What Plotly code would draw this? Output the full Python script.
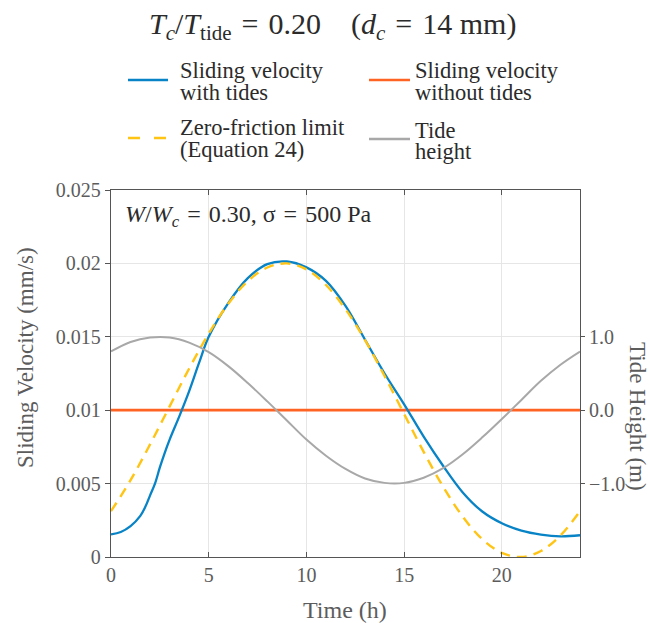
import plotly.graph_objects as go

# ---- data -------------------------------------------------------------
# hourly sample times (h)
t_hours = list(range(0, 25))

# sliding velocity with tides (mm/s)
t_tides = [0, 0.5, 1, 1.5, 1.75, 2, 2.25, 2.5, 2.75, 3, 3.5, 4, 4.5, 5, 6,
           7, 8, 9, 10, 11, 12, 13, 14, 15, 16, 17, 18, 19, 20, 21, 22, 23,
           24]
v_tides = [0.00154, 0.0017, 0.0021, 0.0028, 0.0034, 0.0042, 0.0050, 0.0061,
           0.0071, 0.0080, 0.0096, 0.0113, 0.0132, 0.0150, 0.0173, 0.0190,
           0.01995, 0.02013, 0.01973, 0.01881, 0.0171, 0.0148, 0.0125,
           0.0104, 0.0082, 0.0062, 0.0044, 0.0031, 0.0023, 0.0018, 0.00153,
           0.00141, 0.00148]

# sliding velocity without tides (mm/s)
t_steady = [0, 24]
v_steady = [0.01, 0.01]

# zero-friction limit, Equation 24 (mm/s)
v_zero = [0.00312, 0.00523, 0.00767, 0.01026, 0.01284, 0.01522, 0.01725,
          0.01879, 0.01972, 0.02000, 0.01959, 0.01853, 0.01688, 0.01477,
          0.01233, 0.00974, 0.00716, 0.00478, 0.00275, 0.00121, 0.00028,
          0.0, 0.00041, 0.00147, 0.00312]

# tide height (m)
tide = [0.80, 0.93, 0.99, 0.99, 0.92, 0.79, 0.60, 0.37, 0.12, -0.14, -0.40,
        -0.62, -0.80, -0.93, -0.99, -0.99, -0.92, -0.79, -0.60, -0.37, -0.12,
        0.14, 0.40, 0.62, 0.80]

# axis ticks
x_ticks = [0, 5, 10, 15, 20]
v_ticks = [0, 0.005, 0.01, 0.015, 0.02, 0.025]
v_ticklabels = ["0", "0.005", "0.01", "0.015", "0.02", "0.025"]
h_ticks = [-1, 0, 1]
h_ticklabels = ["\u22121.0", "0.0", "1.0"]

# ---- styling ----------------------------------------------------------
FONT = "Liberation Serif"
BLUE = "#0883C6"
ORANGE = "#FF6324"
YELLOW = "#FFC414"
GRAY = "#A8A8A8"
AXIS = "#555555"
TICKTXT = "#5c5c5c"
TXT = "#2b2b2b"
EQ = "\u2004=\u2004"

W, H = 650, 623
ML, MR, MT, MB = 111, 70, 190, 66
PW, PH = W - ML - MR, H - MT - MB


def px(x):
    return (x - ML) / PW


def py(y):
    return (H - MB - y) / PH


fig = go.Figure()

fig.add_trace(go.Scatter(
    x=t_hours, y=tide, yaxis="y2", mode="lines",
    line=dict(color=GRAY, width=2, shape="spline"),
    name="Tide height", showlegend=False))
fig.add_trace(go.Scatter(
    x=t_steady, y=v_steady, mode="lines",
    line=dict(color=ORANGE, width=2.8),
    name="Sliding velocity without tides", showlegend=False))
fig.add_trace(go.Scatter(
    x=t_tides, y=v_tides, mode="lines",
    line=dict(color=BLUE, width=2.3, shape="spline", smoothing=1.0),
    name="Sliding velocity with tides", showlegend=False))
fig.add_trace(go.Scatter(
    x=t_hours, y=v_zero, mode="lines",
    line=dict(color=YELLOW, width=2.4, dash="10px,7px", shape="spline"),
    name="Zero-friction limit (Equation 24)", showlegend=False))

# ---- legend drawn as line samples + text ------------------------------
legend_items = [
    (128, 168, 80, BLUE, "solid", 178, ["Sliding velocity", "with tides"], [70, 92]),
    (369, 410, 80, ORANGE, "solid", 413, ["Sliding velocity", "without tides"], [70, 92]),
    (128, 166, 138, YELLOW, "12px,14px", 178, ["Zero-friction limit", "(Equation 24)"], [128, 150]),
    (369, 410, 139, GRAY, "solid", 413, ["Tide", "height"], [130, 151]),
]
shapes = []
annotations = []
for x0, x1, yl, col, dash, xt, lines, ys in legend_items:
    shapes.append(dict(type="line", xref="paper", yref="paper",
                       x0=px(x0), x1=px(x1), y0=py(yl), y1=py(yl),
                       line=dict(color=col, width=2.6, dash=dash)))
    for txt, yt in zip(lines, ys):
        annotations.append(dict(xref="paper", yref="paper", x=px(xt), y=py(yt),
                                xanchor="left", yanchor="middle", showarrow=False,
                                text=txt, font=dict(family=FONT, size=22.5, color=TXT)))

# title
annotations.append(dict(
    xref="paper", yref="paper", x=px(332), y=py(26), xanchor="center", yanchor="middle",
    showarrow=False,
    text=("<i>T</i><sub><i>c</i></sub>/<i>T</i><sub>tide</sub>" + EQ + "0.20\u2003("
          "<i>d</i><sub><i>c</i></sub>" + EQ + "14 mm)"),
    font=dict(family=FONT, size=30, color=TXT)))

# parameter note inside the axes
annotations.append(dict(
    xref="paper", yref="paper", x=px(123), y=py(216), xanchor="left", yanchor="middle",
    showarrow=False,
    text="<i>W</i>/<i>W</i><sub><i>c</i></sub>" + EQ + "0.30, \u03c3" + EQ + "500 Pa",
    font=dict(family=FONT, size=24, color=TXT)))

# axis titles
annotations.append(dict(
    xref="paper", yref="paper", x=px(638), y=py(416), xanchor="center", yanchor="middle",
    showarrow=False, textangle=90, text="Tide Height (m)",
    font=dict(family=FONT, size=23, color=TICKTXT)))
annotations.append(dict(
    xref="paper", yref="paper", x=px(25), y=py(358), xanchor="center", yanchor="middle",
    showarrow=False, textangle=-90, text="Sliding Velocity (mm/s)",
    font=dict(family=FONT, size=23, color=TICKTXT)))
annotations.append(dict(
    xref="paper", yref="paper", x=px(345), y=py(610), xanchor="center", yanchor="middle",
    showarrow=False, text="Time (h)",
    font=dict(family=FONT, size=24, color=TICKTXT)))

fig.update_layout(
    width=W, height=H,
    margin=dict(l=ML, r=MR, t=MT, b=MB),
    paper_bgcolor="white", plot_bgcolor="white",
    font=dict(family=FONT, color=TICKTXT),
    showlegend=False,
    shapes=shapes, annotations=annotations,
    xaxis=dict(
        range=[0, 24], tickvals=x_ticks, showgrid=True, gridcolor="#e6e6e6",
        gridwidth=1, zeroline=False, showline=True, linecolor=AXIS, linewidth=1.3,
        mirror="ticks", ticks="inside", ticklen=5, tickcolor=AXIS,
        tickfont=dict(family=FONT, size=20, color=TICKTXT)),
    yaxis=dict(
        range=[0, 0.025], tickvals=v_ticks, ticktext=v_ticklabels,
        showgrid=True, gridcolor="#e6e6e6", gridwidth=1, zeroline=False,
        showline=True, linecolor=AXIS, linewidth=1.3, mirror=True,
        ticks="outside", ticklen=5, tickcolor=AXIS,
        tickfont=dict(family=FONT, size=20, color=TICKTXT)),
    yaxis2=dict(
        overlaying="y", side="right", range=[-2, 3],
        tickvals=h_ticks, ticktext=h_ticklabels, showgrid=False, zeroline=False,
        showline=False, ticks="outside", ticklen=4, tickcolor=AXIS,
        tickfont=dict(family=FONT, size=20, color=TICKTXT)),
)

fig.write_html("out.html")
